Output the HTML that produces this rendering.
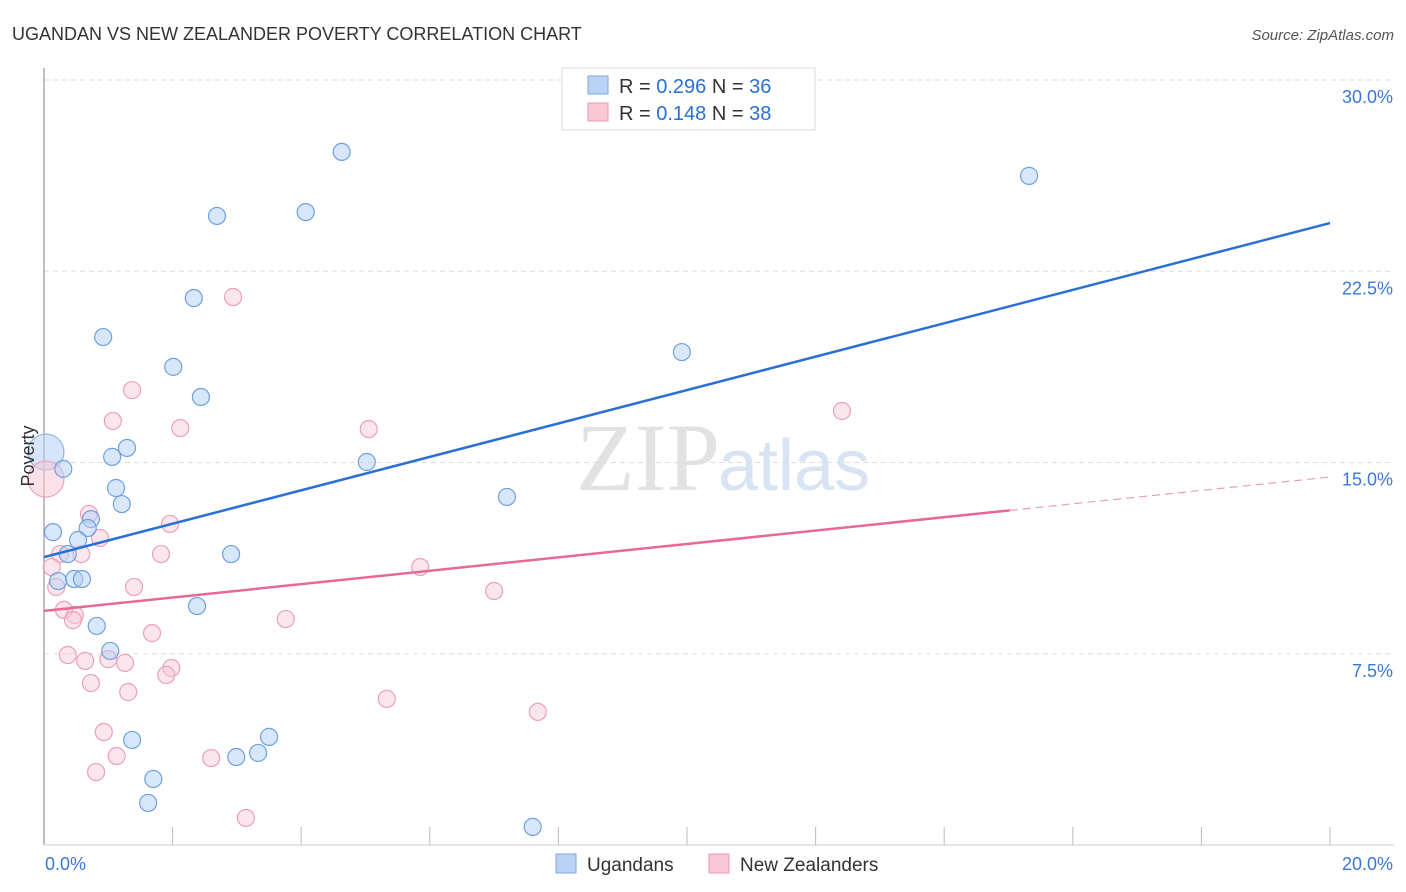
<!DOCTYPE html>
<html><head><meta charset="utf-8"><style>
body{margin:0;background:#fff;font-family:"Liberation Sans",sans-serif}
svg{display:block}
</style></head><body>
<svg id="chart" width="1406" height="892">
<text x="12" y="40" font-size="18" fill="#333">UGANDAN VS NEW ZEALANDER POVERTY CORRELATION CHART</text>
<text x="1394" y="40" font-size="15" fill="#555" font-style="italic" text-anchor="end">Source: ZipAtlas.com</text>
<text x="720" y="490" font-size="96" fill="#e2e2e2" text-anchor="end" font-family="Liberation Serif,serif">ZIP</text>
<text x="718" y="490" font-size="72" fill="#d8e4f4">atlas</text>
<g id="grid"></g>
<g id="axes"></g>
<g id="marks"></g>
<text transform="translate(34,456) rotate(-90)" font-size="18" fill="#333" text-anchor="middle">Poverty</text>
<g>
<rect x="562" y="68" width="253" height="62" fill="#fff" stroke="#ddd"/>
<rect x="588" y="76" width="20" height="18" fill="#b9d3f5" stroke="#7aa7e0"/>
<rect x="588" y="103" width="20" height="18" fill="#f9c8d6" stroke="#e99ab2"/>
<text x="619" y="93" font-size="20" fill="#333">R = <tspan fill="#2a6fd6">0.296</tspan>   N = <tspan fill="#2a6fd6">36</tspan></text>
<text x="619" y="120" font-size="20" fill="#333">R =  <tspan fill="#2a6fd6">0.148</tspan>   N = <tspan fill="#2a6fd6">38</tspan></text>
</g>
<g>
<rect x="556" y="854" width="20" height="19" fill="#b9d3f5" stroke="#7aa7e0"/>
<text x="587" y="871" font-size="19" fill="#333">Ugandans</text>
<rect x="709" y="854" width="20" height="19" fill="#f9c8d6" stroke="#e99ab2"/>
<text x="740" y="871" font-size="19" fill="#333">New Zealanders</text>
</g>
</svg>
<script>
const blueX=[4.63,15.32,2.69,4.07,2.33,0.92,9.92,2.01,2.44,1.29,1.06,5.02,0.30,1.12,1.21,7.2,0.73,0.14,0.68,0.53,0.37,2.91,0.22,0.47,0.59,2.38,0.82,1.03,1.37,3.5,3.33,2.99,1.7,1.62,7.6];
const blueY=[27.18,26.24,24.67,24.82,21.45,19.92,19.33,18.75,17.57,15.57,15.22,15.02,14.75,14.0,13.37,13.65,12.78,12.27,12.43,11.96,11.41,11.41,10.35,10.43,10.43,9.37,8.59,7.61,4.12,4.24,3.61,3.45,2.59,1.65,0.71];
const pinkX=[2.94,1.37,12.41,1.07,2.12,5.05,0.70,1.96,0.87,0.25,0.58,1.82,0.12,5.85,0.19,1.40,7.0,0.31,0.48,0.45,1.68,3.76,0.37,0.64,1.0,1.26,1.98,1.9,0.73,1.31,5.33,7.68,0.93,1.13,2.6,0.81,3.14];
const pinkY=[21.49,17.84,17.02,16.63,16.35,16.31,12.98,12.59,12.04,11.41,11.41,11.41,10.9,10.9,10.12,10.12,9.96,9.22,9.02,8.82,8.31,8.86,7.45,7.22,7.29,7.14,6.94,6.67,6.35,6.0,5.73,5.22,4.43,3.49,3.41,2.86,1.06];
const bigBlue=[0.03,15.41], bigPink=[0.03,14.35];
const blueTrend=[0,11.29,20,24.39];
const pinkTrend=[0,9.18,20,14.43];
const pinkSolidEnd=15.02;
const yTicks=[7.5,15,22.5,30];
const xTickLabels=["0.0%","20.0%"];
const X=v=>44+v*64.3, Y=v=>845-v*25.5;
const NS="http://www.w3.org/2000/svg";
function mk(tag,attrs,parent){const e=document.createElementNS(NS,tag);for(const k in attrs)e.setAttribute(k,attrs[k]);document.getElementById(parent).appendChild(e);return e;}
yTicks.forEach(t=>{
 const l=mk('line',{x1:44,x2:1394,y1:Y(t),y2:Y(t),stroke:'#ddd','stroke-dasharray':'5,4'},'grid');
 
 
 const tx=mk('text',{x:1393,y:Y(t)+23,'font-size':18,fill:'#3a78d6','text-anchor':'end'},'grid');
 tx.textContent=t.toFixed(1)+'%';
 
 
});
let a=mk('line',{x1:44,x2:44,y1:68,y2:845,stroke:'#aaa','stroke-width':1.5},'axes');


a=mk('line',{x1:44,x2:1394,y1:845,y2:845,stroke:'#ccc'},'axes');


for(let i=1;i<=10;i++){const t=mk('line',{x1:X(i*2),x2:X(i*2),y1:827,y2:845,stroke:'#bbb'},'axes');
 
 }
[[0,xTickLabels[0],'start',45],[20,xTickLabels[1],'end',1393]].forEach(d=>{
 const t=mk('text',{x:d[3],y:870,'font-size':18,fill:'#3a78d6','text-anchor':d[2]},'axes');t.textContent=d[1];
 
 
});
function dot(x,y,r,fill,stroke,name){const c=mk('circle',{cx:X(x),cy:Y(y),r:r,fill:fill,stroke:stroke,'stroke-width':1.2},'marks');
 
 }
dot(bigBlue[0],bigBlue[1],18,'rgba(180,208,245,0.55)','#8fb4e6','ugandan-point-large');
dot(bigPink[0],bigPink[1],18,'rgba(249,200,214,0.55)','#eaa5bb','new-zealander-point-large');
pinkX.forEach((x,i)=>dot(x,pinkY[i],8.5,'rgba(249,200,214,0.45)','#eaa0b7','new-zealander-point'));
blueX.forEach((x,i)=>dot(x,blueY[i],8.5,'rgba(180,208,245,0.5)','#6fa0e0','ugandan-point'));
let l=mk('line',{x1:X(blueTrend[0]),y1:Y(blueTrend[1]),x2:X(blueTrend[2]),y2:Y(blueTrend[3]),stroke:'#2a6fd6','stroke-width':2.5},'marks');


const py=x=>pinkTrend[1]+(pinkTrend[3]-pinkTrend[1])*(x-pinkTrend[0])/(pinkTrend[2]-pinkTrend[0]);
l=mk('line',{x1:X(pinkTrend[0]),y1:Y(pinkTrend[1]),x2:X(pinkSolidEnd),y2:Y(py(pinkSolidEnd)),stroke:'#e8689a','stroke-width':2.5},'marks');


l=mk('line',{x1:X(pinkSolidEnd),y1:Y(py(pinkSolidEnd)),x2:X(pinkTrend[2]),y2:Y(pinkTrend[3]),stroke:'#e8a0b8','stroke-width':1.2,'stroke-dasharray':'8,5'},'marks');


</script>
</body></html>
